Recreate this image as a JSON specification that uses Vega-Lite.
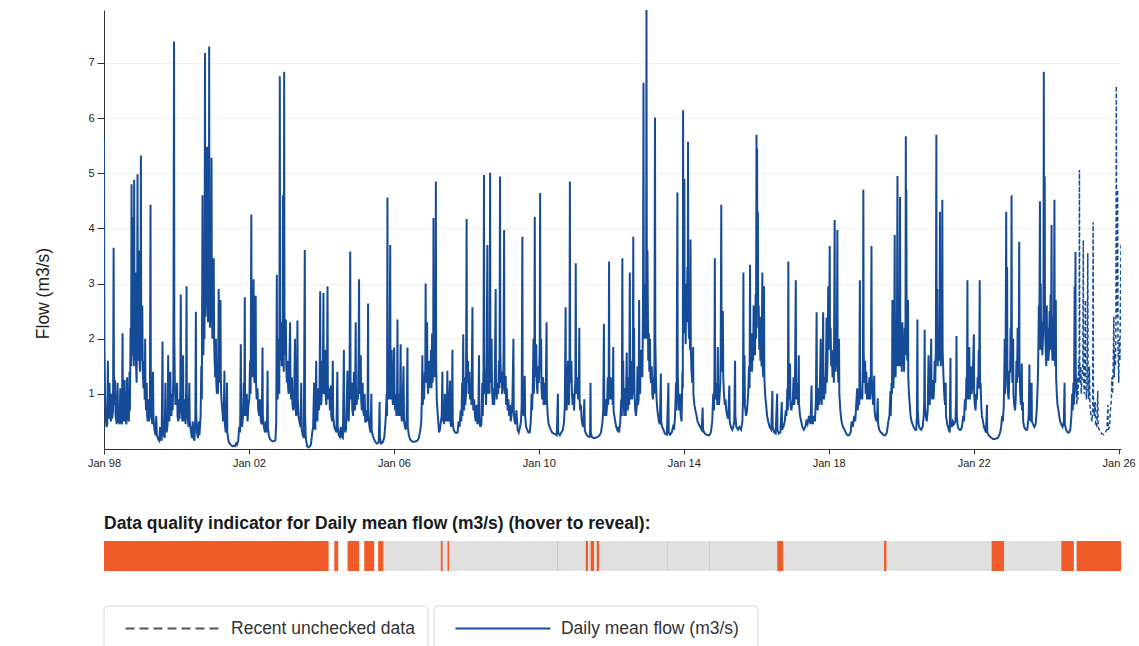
{
"$schema": "https://vega.github.io/schema/vega-lite/v6.json",
"padding": {"left": 34, "top": 10, "right": 0, "bottom": 0},
"background": "white",
"spacing": 46,
"config": {"font": "Liberation Sans", "view": {"stroke": null}},
"resolve": {"scale": {"color": "independent"}},
"vconcat": [
{
"width": 1017, "height": 439,
"layer": [
{
"data": {"values": "d,v\n980101,5.6\n980103,3.2\n980106,1.8\n980111,1.0\n980118,0.6\n980126,0.4\n980203,0.45\n980209,1.6\n980213,0.8\n980222,0.55\n980226,1.2\n980303,0.6\n980312,0.5\n980318,1.0\n980324,0.55\n980402,0.7\n980408,3.65\n980411,1.4\n980417,0.8\n980422,1.25\n980428,0.6\n980510,0.45\n980518,1.2\n980523,0.55\n980607,0.45\n980614,1.1\n980619,0.55\n980701,0.45\n980707,2.1\n980710,0.9\n980718,0.5\n980728,1.25\n980803,0.55\n980815,0.45\n980822,1.3\n980827,0.6\n980909,0.5\n980915,1.4\n980919,0.7\n980926,2.2\n981001,1.5\n981006,4.8\n981009,2.1\n981014,1.7\n981019,4.2\n981023,1.8\n981028,1.5\n981101,4.88\n981105,2.0\n981111,1.6\n981116,3.2\n981120,1.5\n981126,1.2\n981201,2.4\n981205,4.98\n981209,2.0\n981215,1.6\n981220,3.6\n981224,1.7\n981230,1.4\n990104,1.8\n990108,5.32\n990111,2.3\n990116,1.6\n990122,2.6\n990127,1.4\n990203,1.1\n990210,1.6\n990215,0.9\n990220,2.0\n990223,1.0\n990301,0.7\n990307,1.2\n990312,0.6\n990318,0.5\n990325,0.9\n990330,0.5\n990408,0.6\n990415,4.43\n990418,1.4\n990423,0.7\n990502,0.45\n990510,1.4\n990514,0.6\n990524,0.35\n990605,0.25\n990612,0.6\n990618,0.25\n990701,0.18\n990712,0.15\n990720,0.4\n990726,0.2\n990805,0.15\n990814,1.95\n990817,0.5\n990825,0.25\n990905,0.2\n990912,1.2\n990916,0.4\n990925,0.3\n991004,0.45\n991010,1.7\n991014,0.6\n991022,0.5\n991101,1.4\n991105,0.7\n991112,0.6\n991118,1.0\n991124,0.7\n991201,1.3\n991208,7.39\n991211,2.0\n991216,1.2\n991222,0.8\n991228,1.1\n000103,0.9\n000108,1.2\n000112,0.6\n000120,0.5\n000128,0.9\n000203,0.55\n000209,1.1\n000214,2.8\n000217,1.0\n000224,0.7\n000302,0.5\n000308,1.7\n000311,0.8\n000318,0.5\n000326,0.9\n000402,0.45\n000408,1.1\n000412,2.95\n000415,1.0\n000422,0.6\n000502,0.4\n000510,1.2\n000514,0.5\n000524,0.35\n000605,0.2\n000614,0.5\n000620,0.2\n000701,0.15\n000710,0.6\n000715,2.49\n000718,0.7\n000726,0.3\n000805,0.2\n000815,0.5\n000820,0.25\n000901,0.6\n000908,1.5\n000913,0.9\n000920,4.6\n000923,2.0\n000929,1.7\n001005,2.5\n001010,2.0\n001015,7.18\n001018,3.5\n001022,2.4\n001028,3.8\n001101,2.6\n001106,5.48\n001110,3.0\n001115,2.3\n001120,4.0\n001123,2.6\n001126,7.3\n001129,3.2\n001204,2.2\n001209,3.8\n001214,2.3\n001220,5.28\n001223,2.7\n001228,2.0\n010104,2.4\n010111,3.46\n010115,2.0\n010120,1.6\n010126,1.3\n010202,2.0\n010206,1.2\n010212,1.0\n010218,1.5\n010223,1.0\n010302,2.9\n010306,1.5\n010312,1.2\n010320,2.7\n010324,1.2\n010330,0.9\n010408,0.7\n010416,0.5\n010422,0.6\n010429,1.42\n010503,0.45\n010512,0.3\n010518,0.35\n010525,1.2\n010528,0.3\n010608,0.15\n010620,0.1\n010705,0.07\n010718,0.05\n010801,0.06\n010815,0.05\n010825,0.1\n010903,0.08\n010915,0.15\n010925,0.4\n011004,0.3\n011011,1.9\n011015,0.6\n011024,0.4\n011102,0.6\n011110,1.2\n011115,0.6\n011120,2.75\n011123,0.9\n011201,0.6\n011210,1.0\n011218,0.5\n011227,0.8\n020105,0.9\n020112,1.6\n020118,1.0\n020125,4.25\n020128,1.8\n020203,1.3\n020210,1.6\n020217,3.08\n020220,1.5\n020226,1.2\n020305,1.4\n020310,2.78\n020313,1.2\n020320,0.9\n020328,1.1\n020405,0.7\n020415,0.6\n020422,0.9\n020501,0.5\n020510,0.45\n020518,1.84\n020521,0.6\n020601,0.4\n020612,0.3\n020620,0.5\n020701,0.3\n020708,1.42\n020711,0.4\n020720,0.25\n020801,0.18\n020815,0.15\n020901,0.14\n020915,0.14\n020925,0.16\n021003,0.5\n021009,3.16\n021012,1.2\n021018,0.9\n021025,2.0\n021029,1.2\n021103,1.0\n021108,6.76\n021111,2.4\n021116,1.6\n021122,2.3\n021127,1.5\n021202,2.1\n021207,1.6\n021210,4.6\n021213,2.0\n021218,1.4\n021222,6.84\n021225,2.5\n021230,1.7\n030104,1.8\n030108,2.35\n030112,1.5\n030118,1.2\n030125,1.6\n030131,1.1\n030206,1.0\n030212,1.5\n030220,2.3\n030224,1.2\n030302,0.9\n030310,1.3\n030316,0.8\n030324,0.7\n030401,0.9\n030410,2.0\n030414,0.8\n030422,0.6\n030428,0.7\n030505,2.33\n030508,0.9\n030515,0.6\n030525,0.5\n030605,0.4\n030612,1.2\n030617,0.35\n030628,0.25\n030708,0.2\n030718,3.61\n030721,0.6\n030728,0.2\n030810,0.05\n030825,0.03\n030905,0.05\n030918,0.08\n031001,0.3\n031010,0.4\n031020,1.2\n031024,0.4\n031101,0.35\n031110,1.6\n031114,0.6\n031122,0.5\n031130,1.1\n031206,0.7\n031213,0.8\n031220,2.86\n031223,1.0\n031229,0.8\n040103,0.9\n040110,1.6\n040115,1.0\n040122,2.83\n040125,1.3\n040201,1.0\n040208,1.8\n040213,1.0\n040220,0.8\n040227,1.4\n040303,2.95\n040306,1.2\n040312,0.9\n040320,1.1\n040327,0.7\n040405,1.15\n040410,0.6\n040418,0.5\n040425,1.6\n040429,0.6\n040510,0.4\n040520,0.35\n040601,0.3\n040610,1.4\n040614,0.4\n040625,0.25\n040705,0.22\n040715,0.4\n040725,0.22\n040805,0.2\n040815,1.8\n040818,0.5\n040828,0.3\n040905,0.35\n040912,0.8\n040920,1.42\n040924,0.6\n041003,0.5\n041010,1.0\n041018,3.58\n041021,1.3\n041027,0.9\n041103,1.2\n041108,0.7\n041116,0.6\n041124,1.4\n041128,0.8\n041205,0.7\n041212,2.3\n041215,1.0\n041222,0.8\n041228,1.0\n050104,0.9\n050110,1.7\n050115,3.08\n050118,1.3\n050124,1.0\n050201,1.7\n050205,0.9\n050212,0.7\n050220,1.2\n050226,0.7\n050305,0.6\n050312,1.0\n050318,0.5\n050326,0.5\n050404,0.7\n050410,0.5\n050416,2.64\n050419,0.7\n050427,0.45\n050505,0.35\n050512,0.3\n050519,1.0\n050522,0.35\n050601,0.25\n050615,0.18\n050701,0.12\n050715,0.1\n050801,0.12\n050810,0.85\n050813,0.2\n050825,0.1\n050910,0.12\n050925,0.2\n051005,0.4\n051012,0.6\n051020,1.0\n051024,0.6\n051028,4.56\n051031,1.5\n051106,0.9\n051112,1.5\n051118,0.9\n051125,3.7\n051128,1.2\n051204,0.9\n051210,1.8\n051215,1.0\n051222,0.8\n051229,1.3\n060104,1.84\n060108,0.9\n060114,0.7\n060120,1.0\n060126,0.6\n060201,0.7\n060206,2.35\n060210,0.8\n060218,0.6\n060225,1.0\n060303,0.6\n060310,1.9\n060314,0.7\n060322,0.5\n060330,0.8\n060408,1.5\n060413,0.5\n060422,0.4\n060501,0.35\n060510,0.6\n060518,1.84\n060521,0.4\n060601,0.25\n060612,0.18\n060625,0.15\n060710,0.13\n060725,0.13\n060810,0.14\n060825,0.15\n060910,0.2\n060925,0.35\n061004,0.5\n061010,0.9\n061015,1.7\n061019,0.8\n061026,1.0\n061101,0.9\n061108,1.4\n061113,1.2\n061117,3.0\n061120,1.5\n061126,1.2\n061202,2.3\n061205,1.3\n061212,1.0\n061218,1.6\n061224,1.1\n061230,1.5\n070104,1.2\n070110,1.8\n070115,1.1\n070121,2.1\n070126,1.2\n070201,1.5\n070204,4.19\n070207,1.8\n070213,1.3\n070219,1.8\n070224,1.3\n070228,4.85\n070303,1.6\n070309,0.9\n070316,0.7\n070324,0.5\n070401,0.3\n070410,0.35\n070420,0.5\n070428,0.6\n070505,1.4\n070508,0.5\n070515,0.7\n070522,0.45\n070530,1.0\n070604,0.5\n070612,0.6\n070618,0.5\n070624,1.42\n070627,0.6\n070704,0.5\n070712,0.8\n070720,1.24\n070724,0.5\n070801,0.4\n070808,0.6\n070814,1.8\n070817,0.5\n070826,0.35\n070910,0.3\n070922,0.29\n071005,0.3\n071015,0.5\n071025,0.4\n071105,0.7\n071112,0.5\n071120,1.2\n071124,0.6\n071201,2.08\n071204,0.9\n071210,0.7\n071218,1.3\n071222,0.8\n071229,1.0\n080104,4.17\n080107,1.7\n080112,1.2\n080118,1.6\n080124,1.0\n080201,1.4\n080208,0.9\n080215,1.2\n080222,0.8\n080303,2.57\n080306,1.0\n080312,0.7\n080320,0.9\n080328,0.6\n080405,0.5\n080414,0.8\n080422,0.45\n080501,0.5\n080508,1.7\n080511,0.6\n080520,0.4\n080601,0.45\n080610,1.2\n080615,0.6\n080622,1.5\n080627,4.97\n080630,1.6\n080706,1.0\n080712,1.3\n080718,0.8\n080724,1.5\n080731,3.7\n080803,1.3\n080810,1.0\n080816,1.6\n080822,1.0\n080828,5.01\n080831,1.8\n080906,1.2\n080912,2.0\n080916,1.1\n080924,0.8\n081001,1.1\n081008,0.8\n081015,1.4\n081023,2.9\n081026,1.2\n081102,0.9\n081110,1.2\n081118,1.0\n081125,1.6\n081130,1.1\n081206,4.94\n081209,1.8\n081215,1.2\n081222,1.4\n081228,1.0\n090104,1.1\n090110,1.6\n090116,3.97\n090119,1.4\n090125,1.0\n090201,1.33\n090205,0.8\n090212,1.1\n090220,0.7\n090228,0.9\n090308,0.6\n090316,0.8\n090324,0.5\n090401,0.6\n090410,0.9\n090420,2.0\n090423,0.7\n090501,0.5\n090510,0.45\n090520,0.7\n090601,0.35\n090612,0.3\n090625,0.4\n090705,0.5\n090712,0.8\n090719,3.85\n090722,0.9\n090730,0.6\n090806,0.7\n090812,1.33\n090816,0.6\n090825,0.4\n090905,0.35\n090918,0.3\n091001,0.3\n091012,0.5\n091020,1.0\n091025,0.7\n091101,1.1\n091108,2.0\n091112,1.0\n091117,1.5\n091121,4.21\n091124,1.6\n091130,1.3\n091206,1.9\n091211,1.2\n091218,1.0\n091225,1.5\n091230,1.2\n100104,1.3\n100110,1.9\n100114,4.64\n100117,1.8\n100124,2.0\n100128,1.1\n100204,0.9\n100212,1.3\n100218,0.8\n100226,1.2\n100305,0.8\n100312,1.1\n100320,2.3\n100323,0.9\n100401,0.6\n100410,0.45\n100420,0.4\n100501,0.35\n100515,0.3\n100601,0.28\n100615,0.27\n100701,0.25\n100712,1.0\n100715,0.3\n100801,0.25\n100815,0.3\n100901,0.35\n100912,0.5\n100920,0.8\n100928,2.57\n101001,0.8\n101008,0.7\n101015,1.0\n101022,1.6\n101026,0.9\n101101,0.8\n101106,1.5\n101110,4.85\n101113,1.7\n101119,1.2\n101125,1.6\n101201,1.0\n101208,0.8\n101215,1.0\n101222,0.7\n101230,1.1\n110104,1.2\n110108,3.37\n110111,1.4\n110117,1.0\n110124,1.3\n110201,0.9\n110208,1.1\n110213,2.2\n110216,0.9\n110222,0.7\n110301,0.8\n110308,0.55\n110316,0.45\n110325,0.4\n110405,0.9\n110409,0.35\n110420,0.28\n110505,0.24\n110520,0.22\n110601,0.22\n110606,1.2\n110609,0.3\n110620,0.22\n110705,0.2\n110720,0.2\n110805,0.21\n110820,0.22\n110905,0.25\n110920,0.3\n111005,0.5\n111012,0.7\n111019,2.27\n111022,0.8\n111028,0.6\n111105,0.9\n111112,0.6\n111120,0.8\n111127,1.3\n111201,0.8\n111206,1.2\n111210,3.4\n111213,1.2\n111220,0.9\n111227,1.3\n120104,0.9\n120110,1.2\n120116,0.8\n120121,1.85\n120124,0.7\n120201,0.6\n120210,0.5\n120220,0.4\n120301,0.35\n120310,0.4\n120320,0.3\n120401,0.5\n120410,0.9\n120416,0.6\n120422,3.46\n120425,1.2\n120430,1.6\n120505,0.8\n120512,0.6\n120520,1.1\n120526,0.6\n120605,1.75\n120609,0.8\n120616,0.7\n120624,1.3\n120630,0.8\n120706,3.2\n120709,1.2\n120715,0.9\n120722,1.6\n120728,0.9\n120804,1.1\n120810,3.85\n120813,1.3\n120818,2.2\n120822,1.0\n120830,0.7\n120906,0.6\n120915,0.8\n120922,1.5\n120926,0.8\n121003,0.9\n121008,2.7\n121011,1.2\n121018,1.0\n121024,1.8\n121029,1.3\n121104,1.8\n121110,1.3\n121116,2.6\n121121,6.64\n121124,2.8\n121129,2.0\n121204,3.0\n121208,2.1\n121213,2.8\n121217,2.0\n121221,7.96\n121224,3.6\n121228,2.5\n121231,3.6\n130104,2.5\n130108,1.6\n130114,2.1\n130119,1.4\n130125,2.0\n130130,1.3\n130205,1.2\n130212,1.5\n130218,1.0\n130225,0.9\n130303,1.3\n130310,1.0\n130317,6.01\n130320,2.0\n130326,1.3\n130402,0.9\n130410,0.7\n130418,0.6\n130425,0.5\n130505,0.45\n130515,1.37\n130518,0.5\n130528,0.4\n130610,0.35\n130620,0.3\n130701,0.27\n130715,0.26\n130730,1.2\n130802,0.3\n130815,0.26\n130901,0.3\n130915,0.4\n130925,0.35\n131005,0.6\n131015,1.2\n131020,0.7\n131029,4.65\n131101,1.4\n131108,0.9\n131115,0.7\n131122,1.0\n131201,0.6\n131210,0.5\n131218,1.4\n131222,1.1\n131225,6.14\n131228,2.2\n140101,2.8\n140104,2.1\n140107,4.9\n140110,2.2\n140115,2.6\n140120,1.9\n140126,3.0\n140201,2.3\n140206,3.3\n140210,2.4\n140213,5.57\n140216,2.6\n140222,2.0\n140228,2.4\n140305,1.8\n140310,3.8\n140313,1.8\n140320,1.4\n140328,1.2\n140405,1.85\n140408,1.0\n140418,0.8\n140428,0.7\n140510,0.6\n140520,0.5\n140601,0.45\n140615,0.4\n140701,0.35\n140710,0.75\n140714,0.35\n140801,0.28\n140815,0.26\n140901,0.25\n140915,0.25\n141001,0.3\n141015,0.5\n141025,1.0\n141101,0.7\n141106,1.3\n141110,3.46\n141113,1.1\n141120,0.9\n141128,1.2\n141205,0.8\n141210,1.85\n141214,0.9\n141222,0.8\n141229,1.0\n150104,1.2\n150108,1.8\n150114,4.43\n150117,1.8\n150124,1.4\n150130,2.5\n150203,1.3\n150210,1.0\n150218,0.8\n150225,0.9\n150305,0.7\n150315,0.6\n150325,0.55\n150405,1.15\n150409,0.5\n150420,0.4\n150505,0.35\n150515,0.4\n150525,0.5\n150602,1.6\n150605,0.6\n150615,0.4\n150701,0.35\n150715,0.4\n150801,0.35\n150815,0.5\n150821,0.9\n150825,3.2\n150828,1.0\n150905,1.7\n150909,0.8\n150920,0.6\n151001,0.7\n151012,1.0\n151020,1.5\n151026,1.1\n151031,3.34\n151103,1.4\n151110,1.6\n151116,2.1\n151120,1.4\n151126,2.0\n151201,1.6\n151206,2.6\n151210,1.8\n151215,2.2\n151220,1.7\n151226,2.8\n151230,2.0\n160104,5.7\n160107,2.8\n160110,5.45\n160113,2.6\n160118,4.3\n160121,2.2\n160126,2.6\n160201,1.8\n160207,2.4\n160212,1.6\n160218,2.0\n160224,1.5\n160303,3.2\n160306,1.5\n160312,1.3\n160320,2.95\n160323,1.3\n160330,1.0\n160410,0.8\n160420,0.6\n160501,0.5\n160515,0.4\n160601,0.35\n160612,1.05\n160615,0.4\n160701,0.3\n160715,0.28\n160730,1.0\n160802,0.35\n160815,0.28\n160901,0.3\n160915,0.85\n160918,0.35\n161001,0.4\n161015,0.5\n161025,0.7\n161101,0.6\n161110,1.1\n161115,0.7\n161120,3.4\n161123,1.2\n161130,0.9\n161207,1.55\n161211,0.8\n161220,0.7\n161228,0.8\n170104,0.9\n170112,1.3\n170118,0.8\n170125,1.0\n170203,3.06\n170206,1.2\n170212,0.9\n170220,1.2\n170226,0.8\n170305,1.7\n170308,0.8\n170318,0.6\n170330,0.5\n170410,0.4\n170425,0.35\n170510,0.4\n170520,0.5\n170601,0.45\n170615,0.6\n170701,0.45\n170712,1.15\n170715,0.5\n170725,0.45\n170805,0.6\n170815,0.5\n170825,0.9\n170901,2.48\n170904,0.9\n170912,0.7\n170920,1.1\n170926,0.8\n171005,1.2\n171012,2.0\n171015,1.0\n171022,0.8\n171030,1.2\n171106,2.48\n171109,1.1\n171115,0.9\n171122,1.3\n171128,1.0\n171204,1.5\n171210,2.38\n171213,1.2\n171220,1.6\n171227,2.95\n180104,1.8\n180111,3.68\n180114,1.8\n180120,2.2\n180126,1.5\n180202,1.8\n180208,1.3\n180215,1.6\n180222,1.2\n180302,4.15\n180305,1.8\n180312,1.4\n180318,2.2\n180324,1.5\n180329,3.97\n180401,1.6\n180408,1.2\n180415,2.0\n180418,1.0\n180428,0.7\n180510,0.5\n180525,0.4\n180610,0.35\n180625,0.28\n180710,0.25\n180725,0.25\n180810,0.3\n180820,0.5\n180901,0.4\n180915,0.6\n180925,0.5\n181005,0.8\n181015,1.1\n181020,0.7\n181028,0.9\n181105,0.8\n181111,3.06\n181114,1.2\n181120,0.9\n181128,1.0\n181205,0.9\n181212,1.5\n181216,4.7\n181219,1.8\n181226,1.2\n190103,1.6\n190108,1.0\n190115,1.4\n190122,0.9\n190201,1.2\n190208,0.9\n190215,1.3\n190222,0.9\n190301,1.2\n190308,3.68\n190311,1.3\n190318,1.0\n190325,0.8\n190405,1.33\n190408,0.7\n190418,0.55\n190501,0.5\n190510,0.92\n190514,0.45\n190525,0.35\n190610,0.3\n190625,0.28\n190710,0.25\n190725,0.25\n190810,0.3\n190825,0.5\n190905,0.6\n190915,1.05\n190918,0.6\n190926,1.2\n191001,1.0\n191005,2.7\n191008,1.3\n191015,1.1\n191022,1.6\n191028,3.88\n191031,1.6\n191106,1.3\n191112,2.0\n191118,1.5\n191125,4.95\n191128,1.9\n191204,1.5\n191210,2.3\n191215,1.5\n191221,4.57\n191224,1.9\n191230,1.5\n200103,2.0\n200107,1.4\n200113,2.3\n200117,1.6\n200124,1.9\n200130,1.4\n200205,2.2\n200210,1.7\n200214,2.4\n200217,5.67\n200220,2.3\n200222,4.7\n200226,2.0\n200303,1.6\n200310,2.7\n200313,1.3\n200320,1.0\n200328,0.8\n200405,0.6\n200415,0.5\n200425,0.45\n200505,0.4\n200520,0.35\n200601,0.35\n200608,0.6\n200613,2.35\n200616,0.7\n200625,0.45\n200705,0.38\n200720,0.35\n200805,0.4\n200815,0.6\n200821,0.9\n200825,2.16\n200828,0.8\n200905,0.6\n200915,0.5\n200925,0.7\n201003,1.7\n201007,0.9\n201015,0.8\n201022,1.2\n201030,2.0\n201102,1.0\n201110,0.9\n201117,1.25\n201122,0.9\n201128,1.1\n201204,1.6\n201210,1.2\n201216,1.9\n201221,5.7\n201224,2.0\n201230,2.9\n210104,1.5\n210110,2.2\n210116,1.6\n210122,2.0\n210126,4.3\n210129,1.9\n210204,1.5\n210210,2.0\n210215,1.7\n210219,4.52\n210222,1.8\n210301,1.4\n210310,1.0\n210318,0.8\n210325,1.2\n210328,0.6\n210410,0.45\n210425,0.35\n210505,0.3\n210512,1.65\n210515,0.5\n210525,0.4\n210605,0.5\n210615,0.45\n210701,0.5\n210708,0.9\n210712,2.05\n210715,0.6\n210725,0.4\n210810,0.35\n210825,0.35\n210905,0.4\n210918,0.6\n210925,0.5\n211005,0.9\n211012,0.7\n211020,1.3\n211025,0.9\n211030,3.06\n211102,1.2\n211110,0.9\n211118,1.85\n211122,0.9\n211130,1.1\n211206,1.5\n211212,1.0\n211220,1.2\n211227,1.6\n220103,2.08\n220106,1.0\n220112,0.8\n220120,0.7\n220128,1.0\n220203,0.9\n220210,1.3\n220216,1.1\n220221,1.8\n220225,1.2\n220303,3.06\n220306,1.1\n220312,1.2\n220318,0.8\n220325,0.6\n220405,0.5\n220415,0.4\n220425,0.35\n220505,0.3\n220515,0.8\n220518,0.3\n220601,0.25\n220615,0.22\n220701,0.2\n220715,0.18\n220801,0.18\n220815,0.19\n220901,0.2\n220915,0.25\n220925,0.3\n221005,0.4\n221015,0.6\n221022,0.5\n221101,0.8\n221106,1.4\n221110,2.0\n221113,1.0\n221118,1.2\n221125,4.3\n221128,1.6\n221204,3.3\n221207,1.4\n221213,1.0\n221220,0.9\n221228,1.4\n230103,1.4\n230108,2.2\n230113,1.6\n230118,4.6\n230121,1.8\n230126,1.2\n230203,2.0\n230206,1.0\n230214,0.8\n230222,0.7\n230301,0.9\n230308,1.6\n230314,1.2\n230320,2.2\n230325,1.3\n230331,1.6\n230405,3.76\n230408,1.4\n230415,1.0\n230422,0.8\n230501,1.55\n230504,0.7\n230512,0.85\n230515,0.5\n230525,0.4\n230610,0.35\n230625,0.35\n230710,0.6\n230717,1.53\n230720,0.6\n230801,0.5\n230808,1.2\n230811,0.5\n230822,0.45\n230905,0.4\n230918,0.45\n230928,0.7\n231005,1.0\n231012,1.4\n231020,2.6\n231024,1.8\n231031,4.49\n231103,2.0\n231108,3.0\n231112,1.8\n231118,2.3\n231124,1.7\n231130,2.0\n231205,2.4\n231209,6.84\n231212,2.8\n231218,4.94\n231221,2.2\n231228,1.8\n240103,1.5\n240108,2.6\n240112,1.6\n240118,2.2\n240124,1.6\n240130,1.8\n240205,2.5\n240210,1.8\n240215,2.8\n240220,1.9\n240225,4.06\n240228,2.0\n240305,1.6\n240310,2.4\n240315,1.6\n240320,2.0\n240325,4.52\n240328,2.0\n240402,1.5\n240408,2.7\n240411,1.3\n240418,1.0\n240425,0.8\n240505,0.7\n240512,0.6\n240522,0.5\n240601,0.45\n240615,0.4\n240628,0.5\n240705,1.2\n240708,0.45\n240720,0.35\n240805,0.3\n240820,0.3\n240901,0.35\n240912,0.6\n240920,1.0\n240925,0.7\n241002,1.2\n241008,0.8\n241015,2.95\n241018,1.3\n241023,3.57\n241026,1.4\n241031,1.0", "format": {"type": "csv", "parse": {"d": "date:'%y%m%d'", "v": "number"}}},
"mark": {"type": "line", "color": "#164b98", "strokeWidth": 2, "clip": true},
"encoding": {
"x": {"field": "d", "type": "temporal", "title": null,
"scale": {"domain": [{"year": 1998, "month": 1, "date": 1}, {"year": 2026, "month": 1, "date": 25}]},
"axis": {"values": [{"year": 1998, "month": 1, "date": 1}, {"year": 2002, "month": 1, "date": 1}, {"year": 2006, "month": 1, "date": 1}, {"year": 2010, "month": 1, "date": 1}, {"year": 2014, "month": 1, "date": 1}, {"year": 2018, "month": 1, "date": 1}, {"year": 2022, "month": 1, "date": 1}, {"year": 2026, "month": 1, "date": 1}], "format": "%b %y", "labelFontSize": 11, "labelColor": "#222", "labelFlush": false, "labelOverlap": false, "tickSize": 5, "labelPadding": 3, "grid": false, "domainColor": "#333", "tickColor": "#333"}},
"y": {"field": "v", "type": "quantitative", "title": "Flow (m3/s)",
"scale": {"domain": [0, 7.96], "nice": false, "zero": true},
"axis": {"values": [1, 2, 3, 4, 5, 6, 7], "labelFontSize": 11, "labelColor": "#222", "tickSize": 7, "labelPadding": 3, "grid": true, "gridColor": "#f1f1f1", "domainColor": "#333", "tickColor": "#333", "titleFontSize": 17.5, "titleFontWeight": "normal", "titleColor": "#222", "titleX": -52, "titleY": 283}}
}
},
{
"data": {"values": "d,v\n241031,1.0\n241106,0.8\n241112,1.3\n241117,0.9\n241124,1.6\n241129,1.2\n241202,5.06\n241205,1.6\n241210,1.2\n241215,1.5\n241220,1.0\n241228,1.3\n250105,1.5\n250110,3.79\n250113,1.3\n250120,1.0\n250127,1.4\n250201,2.7\n250204,1.2\n250210,0.9\n250217,1.1\n250224,3.55\n250227,1.2\n250305,0.9\n250312,1.5\n250318,0.8\n250328,0.6\n250408,0.5\n250415,0.7\n250419,4.11\n250422,0.9\n250430,0.6\n250510,0.85\n250514,0.45\n250525,0.4\n250605,1.05\n250608,0.4\n250620,0.35\n250705,0.3\n250720,0.27\n250805,0.26\n250820,0.3\n250905,0.35\n250915,0.8\n250918,0.35\n251001,0.4\n251010,0.7\n251020,0.9\n251026,1.3\n251101,1.0\n251108,1.6\n251114,2.4\n251118,1.3\n251124,1.8\n251130,1.5\n251205,2.2\n251209,6.58\n251212,3.0\n251216,2.4\n251222,4.7\n251226,1.8\n260102,1.2\n260108,2.0\n260114,1.6\n260120,2.8\n260125,3.7", "format": {"type": "csv", "parse": {"d": "date:'%y%m%d'", "v": "number"}}},
"mark": {"type": "line", "color": "#164b98", "strokeWidth": 1.5, "strokeDash": [4, 2.5], "clip": true},
"encoding": {
"x": {"field": "d", "type": "temporal"},
"y": {"field": "v", "type": "quantitative"}
}
}
]
},
{
"spacing": 34,
"resolve": {"scale": {"color": "independent"}},
"vconcat": [
{
"width": 1017, "height": 30,
"title": {"text": "Data quality indicator for Daily mean flow (m3/s) (hover to reveal):", "anchor": "start", "fontSize": 17.5, "fontWeight": "bold", "color": "#1a1a1a", "offset": 9, "font": "Liberation Sans"},
"data": {"values": [
{"s": "1998-01-01", "e": "2004-03-14", "q": "flagged"},
{"s": "2004-05-10", "e": "2004-06-19", "q": "flagged"},
{"s": "2004-09-21", "e": "2005-01-16", "q": "flagged"},
{"s": "2005-03-08", "e": "2005-06-17", "q": "flagged"},
{"s": "2005-07-26", "e": "2005-09-19", "q": "flagged"},
{"s": "2005-09-19", "e": "2007-04-19", "q": "good"},
{"s": "2007-04-19", "e": "2007-05-09", "q": "flagged"},
{"s": "2007-05-09", "e": "2007-06-25", "q": "good"},
{"s": "2007-06-25", "e": "2007-07-15", "q": "flagged"},
{"s": "2007-07-15", "e": "2010-07-10", "q": "good"},
{"s": "2010-07-10", "e": "2010-07-16", "q": "flagged"},
{"s": "2010-07-16", "e": "2011-04-19", "q": "good"},
{"s": "2011-04-19", "e": "2011-05-12", "q": "flagged"},
{"s": "2011-05-12", "e": "2011-06-07", "q": "good"},
{"s": "2011-06-07", "e": "2011-07-13", "q": "flagged"},
{"s": "2011-07-13", "e": "2011-08-08", "q": "good"},
{"s": "2011-08-08", "e": "2011-09-03", "q": "flagged"},
{"s": "2011-09-03", "e": "2013-07-16", "q": "good"},
{"s": "2013-07-16", "e": "2013-07-21", "q": "flagged"},
{"s": "2013-07-21", "e": "2014-09-20", "q": "good"},
{"s": "2014-09-20", "e": "2014-09-25", "q": "flagged"},
{"s": "2014-09-25", "e": "2016-07-31", "q": "good"},
{"s": "2016-07-31", "e": "2016-09-30", "q": "flagged"},
{"s": "2016-09-30", "e": "2019-07-12", "q": "good"},
{"s": "2019-07-12", "e": "2019-08-08", "q": "flagged"},
{"s": "2019-08-08", "e": "2022-07-01", "q": "good"},
{"s": "2022-07-01", "e": "2022-11-03", "q": "flagged"},
{"s": "2022-11-03", "e": "2024-06-02", "q": "good"},
{"s": "2024-06-02", "e": "2024-10-07", "q": "flagged"},
{"s": "2024-11-03", "e": "2026-01-26", "q": "flagged"}
]},
"mark": {"type": "rect"},
"encoding": {
"x": {"field": "s", "type": "temporal", "axis": null, "scale": {"domain": [{"year": 1998, "month": 1, "date": 1}, {"year": 2026, "month": 1, "date": 25}]}},
"x2": {"field": "e"},
"color": {"field": "q", "type": "nominal", "legend": null, "scale": {"domain": ["flagged", "good"], "range": ["#f15a29", "#e0e0e0"]}}
}
},
{
"width": 654, "height": 45,
"data": {"values": [{"series": "Recent unchecked data"}, {"series": "Daily mean flow (m3/s)"}]},
"encoding": {
"x": {"field": "series", "type": "nominal", "sort": null, "axis": null, "scale": {"domain": ["Recent unchecked data", "Daily mean flow (m3/s)"], "paddingInner": 0.018, "paddingOuter": 0}}
},
"layer": [
{"mark": {"type": "bar", "fill": "white", "stroke": "#d6d6d6", "strokeWidth": 1, "cornerRadius": 4}},
{"mark": {"type": "point", "shape": "M-1,0H1", "size": 9025, "xOffset": -93, "opacity": 1, "strokeWidth": 2.2, "filled": false},
"encoding": {
"stroke": {"field": "series", "type": "nominal", "legend": null, "scale": {"domain": ["Recent unchecked data", "Daily mean flow (m3/s)"], "range": ["#555555", "#1a4f9c"]}},
"strokeDash": {"field": "series", "type": "nominal", "legend": null, "scale": {"domain": ["Recent unchecked data", "Daily mean flow (m3/s)"], "range": [[9, 5], [1, 0]]}}
}},
{"mark": {"type": "text", "align": "left", "xOffset": -35, "fontSize": 17.5, "color": "#333333", "font": "Liberation Sans"},
"encoding": {"text": {"field": "series"}}}
]
}
]
}
]
}
